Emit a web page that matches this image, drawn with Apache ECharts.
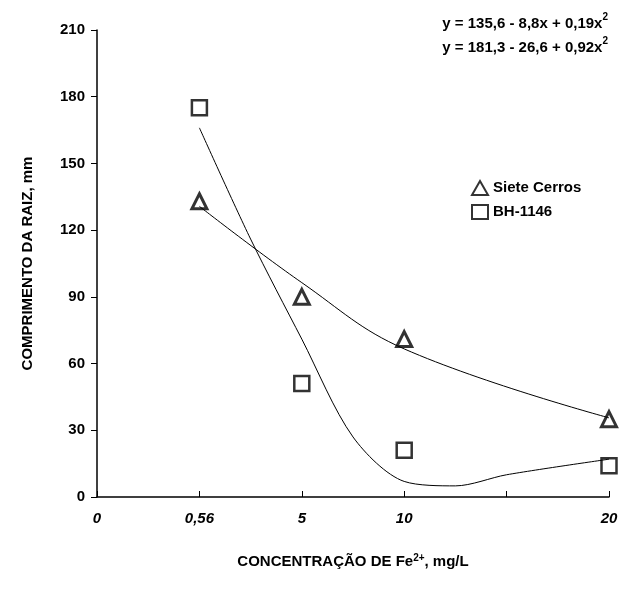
<!DOCTYPE html><html><head><script src="https://cdn.jsdelivr.net/npm/echarts@6/dist/echarts.min.js"></script></head><body style="margin:0"><div id="c" style="width:622px;height:609px"></div><script>
const xLabels=['0','0,56','5','10','','20'];
const xPos=[1,2,3,5];
const sieteObs=[133,90,71,35];
const bhObs=[175,51,21,14];
const sieteFit=[130.7,96.4,66.6,35.6];
// fitted curve (axis position, value)
const bhCurveX=[1,1.5,2,2.5,3,3.5,4,5];
const bhCurveY=[166,116,71,27,7,5,10,17];
const pair=a=>a.map((v,i)=>[xPos[i],v]);
const F='Liberation Sans, Arial';
const c=echarts.init(document.getElementById('c'));
c.setOption({animation:false,
grid:{left:97,right:13,top:30,bottom:112},
xAxis:{type:'value',min:0,max:5,interval:1,axisLine:{lineStyle:{color:'#000',width:1.5}},axisTick:{inside:true,length:6,lineStyle:{color:'#000'}},splitLine:{show:false},
axisLabel:{formatter:v=>xLabels[v],color:'#000',fontFamily:F,fontWeight:'bold',fontStyle:'italic',fontSize:15,margin:14},
name:'CONCENTRAÇÃO DE Fe{s|2+}, mg/L',nameLocation:'middle',nameGap:56,nameTextStyle:{color:'#000',fontFamily:F,fontWeight:'bold',fontSize:15,rich:{s:{fontSize:10,verticalAlign:'top',fontWeight:'bold',fontFamily:F,padding:[0,0,8,0]}}}},
yAxis:{type:'value',min:0,max:210,interval:30,axisLine:{show:true,lineStyle:{color:'#000',width:1.5}},axisTick:{show:true,length:6,lineStyle:{color:'#000'}},splitLine:{show:false},
axisLabel:{color:'#000',fontFamily:F,fontWeight:'bold',fontSize:15,margin:12},
name:'COMPRIMENTO DA RAIZ, mm',nameLocation:'middle',nameGap:62,nameTextStyle:{color:'#000',fontFamily:F,fontWeight:'bold',fontSize:15}},
legend:{left:466,top:175,orient:'vertical',itemGap:8,itemWidth:16,itemHeight:14,textStyle:{color:'#000',fontFamily:F,fontWeight:'bold',fontSize:15},data:['Siete Cerros','BH-1146']},
graphic:[{type:'text',right:14,top:12,style:{text:'y = 135,6 - 8,8x + 0,19x{s|2}\ny = 181,3 - 26,6 + 0,92x{s|2}',lineHeight:24,fill:'#000',font:'bold 15px Liberation Sans',align:'right',rich:{s:{fontSize:10,fontWeight:'bold',verticalAlign:'top',padding:[0,0,8,0]}}}}],
series:[
{name:'sf',type:'line',data:pair(sieteFit),smooth:0.4,symbol:'none',lineStyle:{color:'#000',width:1},silent:true},
{name:'bf',type:'line',data:bhCurveX.map((x,i)=>[x,bhCurveY[i]]),smooth:0.3,smoothMonotone:'none',symbol:'none',lineStyle:{color:'#000',width:1},silent:true},
{name:'Siete Cerros',type:'scatter',data:pair(sieteObs),symbol:'triangle',symbolSize:15,itemStyle:{color:'#fff',borderColor:'#000',borderWidth:3}},
{name:'BH-1146',type:'scatter',data:pair(bhObs),symbol:'rect',symbolSize:15,itemStyle:{color:'#fff',borderColor:'#000',borderWidth:2.5}}
]});
</script></body></html>
